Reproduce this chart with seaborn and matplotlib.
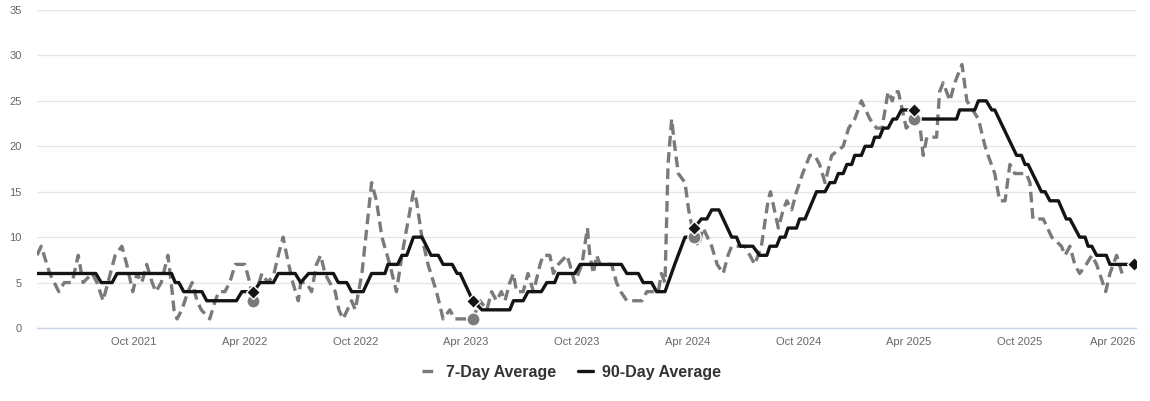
import pandas as pd
import matplotlib
matplotlib.use("Agg")
import matplotlib.pyplot as plt
import matplotlib.dates as mdates
from matplotlib.lines import Line2D
from matplotlib.transforms import ScaledTranslation
import seaborn as sns

# --- data (x = days since START) ---
START = pd.Timestamp("2021-04-24")

DAYS_7D = [0, 7, 21, 36, 45, 58, 68, 76, 91, 99, 109, 117, 129, 140, 148, 158, 165, 173, 181, 190,
           196, 205, 216, 223, 226, 231, 239, 249, 256, 264, 271, 285, 294, 300, 310, 318, 327, 343, 351, 357,
           371, 381, 391, 398, 406, 412, 422, 431, 435, 444, 453, 461, 468, 475, 483, 492, 498, 505, 519, 525,
           536, 544, 552, 560, 569, 582, 593, 602, 610, 621, 626, 635, 645, 659, 670, 681, 689, 706, 719, 731,
           742, 750, 758, 766, 772, 780, 786, 791, 802, 810, 819, 830, 835, 846, 852, 860, 874, 879, 887, 899,
           908, 912, 918, 923, 929, 948, 956, 963, 973, 998, 1006, 1025, 1030, 1036, 1041, 1047, 1052, 1058, 1069, 1075,
           1084, 1091, 1099, 1113, 1122, 1132, 1140, 1146, 1168, 1176, 1184, 1195, 1206, 1210, 1223, 1231, 1237, 1245, 1253, 1263,
           1275, 1283, 1291, 1300, 1311, 1330, 1339, 1349, 1360, 1367, 1374, 1385, 1394, 1404, 1411, 1415, 1421, 1434, 1446, 1457,
           1462, 1468, 1484, 1489, 1495, 1506, 1514, 1526, 1534, 1553, 1564, 1569, 1580, 1588, 1597, 1605, 1613, 1621, 1632, 1638,
           1643, 1660, 1674, 1690, 1696, 1704, 1712, 1720, 1731, 1740, 1748, 1763, 1770, 1781, 1790]
VALUES_7D = [8, 9, 6, 4, 5, 5, 8, 5, 6, 5, 3, 5, 8, 9, 7, 4, 6, 5, 7, 5,
             4, 5, 8, 4, 2, 1, 2, 4, 5, 3, 2, 1, 3, 4, 4, 5, 7, 7, 5, 3,
             6, 5, 6, 8, 10, 8, 5, 3, 5, 5, 4, 7, 8, 6, 5, 4, 2, 1, 3, 2,
             6, 11, 16, 14, 10, 7, 4, 8, 11, 15, 14, 10, 7, 4, 1, 2, 1, 1, 1, 3,
             2, 4, 3, 4, 3, 5, 6, 4, 4, 6, 4, 7, 8, 8, 6, 7, 8, 7, 5, 7,
             11, 8, 6, 8, 7, 7, 5, 4, 3, 3, 4, 4, 6, 5, 18, 23, 20, 17, 16, 13,
             10, 9, 11, 9, 7, 6, 8, 9, 9, 8, 7, 9, 14, 15, 11, 13, 14, 13, 15, 17,
             19, 19, 18, 16, 19, 20, 22, 23, 25, 24, 23, 22, 22, 26, 25, 26, 26, 22, 23, 22,
             19, 21, 21, 26, 27, 25, 27, 29, 25, 23, 20, 19, 17, 14, 14, 18, 17, 17, 17, 16,
             12, 12, 10, 9, 8, 9, 7, 6, 7, 8, 7, 4, 6, 8, 6]

DAYS_90D = [0, 97, 106, 124, 132, 222, 228, 234, 242, 272, 280, 329, 338, 357, 368, 390, 398, 426, 435, 448,
            489, 497, 511, 519, 538, 545, 552, 574, 579, 595, 602, 610, 621, 635, 650, 662, 670, 685, 693, 698,
            719, 734, 780, 786, 802, 810, 832, 841, 854, 860, 887, 896, 964, 973, 992, 1000, 1014, 1022, 1036, 1052,
            1069, 1077, 1084, 1096, 1105, 1113, 1125, 1146, 1154, 1160, 1181, 1192, 1204, 1209, 1220, 1226, 1234, 1239, 1253, 1258,
            1267, 1286, 1300, 1308, 1316, 1322, 1330, 1336, 1344, 1349, 1360, 1366, 1377, 1382, 1390, 1396, 1404, 1412, 1418, 1426,
            1432, 1446, 1454, 1517, 1522, 1547, 1553, 1566, 1575, 1580, 1616, 1624, 1630, 1635, 1657, 1663, 1671, 1685, 1698, 1704,
            1720, 1729, 1734, 1740, 1748, 1764, 1770, 1810]
VALUES_90D = [6, 6, 5, 5, 6, 6, 5, 5, 4, 4, 3, 3, 4, 4, 5, 5, 6, 6, 5, 6,
              6, 5, 5, 4, 4, 5, 6, 6, 7, 7, 8, 8, 10, 10, 8, 8, 7, 7, 6, 6,
              3, 2, 2, 3, 3, 4, 4, 5, 5, 6, 6, 7, 7, 6, 6, 5, 5, 4, 4, 7,
              10, 10, 11, 12, 12, 13, 13, 10, 10, 9, 9, 8, 8, 9, 9, 10, 10, 11, 11, 12,
              12, 15, 15, 16, 16, 17, 17, 18, 18, 19, 19, 20, 20, 21, 21, 22, 22, 23, 23, 24,
              24, 24, 23, 23, 24, 24, 25, 25, 24, 24, 19, 19, 18, 18, 15, 15, 14, 14, 12, 12,
              10, 10, 9, 9, 8, 8, 7, 7]

# yearly comparison markers
MARK_DAYS_7D = [357, 719, 1084, 1446]
MARK_VALUES_7D = [3, 1, 10, 23]
MARK_DAYS_90D = [357, 719, 1084, 1446, 1810]
MARK_VALUES_90D = [4, 3, 11, 24, 7]

LABEL_7D = "7-Day Average"
LABEL_90D = "90-Day Average"
COLOR_7D = "#7a7a7a"
COLOR_90D = "#141414"


def to_dates(days):
    return START + pd.to_timedelta(days, unit="D")


sns.set_style("white")
plt.rcParams["font.family"] = ["Liberation Sans", "DejaVu Sans"]

fig = plt.figure(figsize=(11.5, 4.01), dpi=100)
ax = fig.add_axes([37 / 1150, 73 / 401, 1099 / 1150, 318 / 401])

df7 = pd.DataFrame({"date": to_dates(DAYS_7D), "value": VALUES_7D})
df90 = pd.DataFrame({"date": to_dates(DAYS_90D), "value": VALUES_90D})

sns.lineplot(data=df7, x="date", y="value", ax=ax, color=COLOR_7D, linewidth=2.4,
             linestyle=(0, (3.2, 1.7)), estimator=None, zorder=3)
sns.lineplot(data=df90, x="date", y="value", ax=ax, color=COLOR_90D, linewidth=2.4,
             estimator=None, zorder=4)

sns.scatterplot(x=to_dates(MARK_DAYS_7D), y=MARK_VALUES_7D, ax=ax, marker="o", s=90,
                color=COLOR_7D, edgecolor="white", linewidth=1, zorder=5)
sns.scatterplot(x=to_dates(MARK_DAYS_90D), y=MARK_VALUES_90D, ax=ax, marker="D", s=50,
                color=COLOR_90D, edgecolor="white", linewidth=1, zorder=6)

ax.set_ylim(0, 35)
ax.set_yticks(range(0, 36, 5))
ax.set_xlim(START, START + pd.Timedelta(days=1813))
ax.xaxis.set_major_locator(mdates.MonthLocator(bymonth=[4, 10]))
ax.xaxis.set_major_formatter(mdates.DateFormatter("%b %Y"))

ax.grid(axis="y", color="#e6e6e6", linewidth=1)
ax.grid(axis="x", visible=False)
for side in ["top", "right", "left"]:
    ax.spines[side].set_visible(False)
ax.spines["bottom"].set_color("#ccd6eb")
ax.spines["bottom"].set_linewidth(1)

ax.tick_params(axis="y", length=0, pad=11, labelsize=8, labelcolor="#666666")
ax.tick_params(axis="x", length=5, width=1, color="#ccd6eb", pad=1.5,
               labelsize=8, labelcolor="#666666")
ax.set_xlabel("")
ax.set_ylabel("")

# keep the last date label inside the figure, like the original
fig.canvas.draw()
last = ax.get_xticklabels()[-1]
last.set_ha("right")
last.set_transform(last.get_transform() + ScaledTranslation(5 / 100, 0, fig.dpi_scale_trans))

handles = [Line2D([], [], color=COLOR_7D, linewidth=2.4, linestyle=(0, (3.2, 1.7))),
           Line2D([], [], color=COLOR_90D, linewidth=2.4)]
leg = fig.legend(handles, [LABEL_7D, LABEL_90D], loc="center", bbox_to_anchor=(0.497, 0.072),
                 ncol=2, frameon=False, handlelength=0.9, handletextpad=0.6, columnspacing=1.4,
                 prop={"weight": "bold", "size": 11.5})
for t in leg.get_texts():
    t.set_color("#333333")

fig.savefig("out.png", dpi=100)
